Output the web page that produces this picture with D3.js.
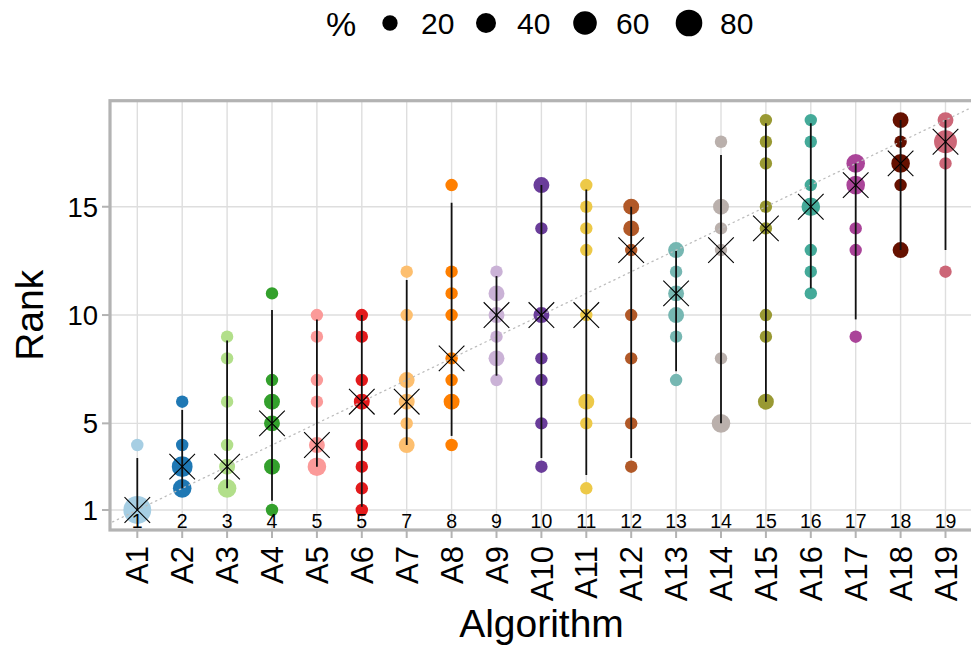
<!DOCTYPE html>
<html>
<head>
<meta charset="utf-8">
<script src="https://cdn.jsdelivr.net/npm/d3@7"></script>
<style>
  html, body { margin: 0; padding: 0; background: #fff; }
  svg { display: block; font-family: "Liberation Sans", Arial, Helvetica, sans-serif; }
</style>
</head>
<body>
<svg id="chart" width="971" height="650"></svg>
<script>
// ---------------- data ----------------
const algorithms = ["A1","A2","A3","A4","A5","A6","A7","A8","A9","A10","A11","A12","A13","A14","A15","A16","A17","A18","A19"];
const rankLabels = [1,2,3,4,5,5,7,8,9,10,11,12,13,14,15,16,17,18,19];
const medianRanks = [1,3,3,5,4,6,6,8,10,10,10,13,11,13,14,15,16,17,18];
const ciLower = [1,2,2,1.43,3,1.15,4,4.42,7.2,3.4,2.62,3.4,7.4,5,6,11.23,9.8,13,13];
const ciUpper = [3.4,5.62,8.82,10.23,9.8,10,11.62,15.19,11.8,16,15.8,15,12.96,17.39,18.85,18.85,17,19,19];
const pointRanks = [
  [1,4],
  [2,3,4,6],
  [2,3,4,6,8,9],
  [1,3,5,6,7,11],
  [3,4,6,7,9,10],
  [1,2,3,4,6,7,9,10],
  [4,5,6,7,10,12],
  [4,6,7,8,10,11,12,16],
  [7,8,9,10,11,12],
  [3,5,7,8,10,14,16],
  [2,5,6,10,13,14,15,16],
  [3,5,8,10,13,14,15],
  [7,9,10,11,12,13],
  [5,8,13,14,15,18],
  [6,9,10,14,15,17,18,19],
  [11,12,13,15,16,18,19],
  [9,13,14,16,17],
  [13,16,17,18,19],
  [12,17,18,19]
];
const pointPercents = [
  [88.9,11.1],
  [33.3,44.4,11.1,11.1],
  [33.3,22.2,11.1,11.1,11.1,11.1],
  [11.1,22.2,22.2,22.2,11.1,11.1],
  [33.3,22.2,11.1,11.1,11.1,11.1],
  [11.1,11.1,11.1,11.1,22.2,11.1,11.1,11.1],
  [22.2,11.1,22.2,22.2,11.1,11.1],
  [11.1,22.2,11.1,11.1,11.1,11.1,11.1,11.1],
  [11.1,22.2,11.1,22.2,22.2,11.1],
  [11.1,11.1,11.1,11.1,22.2,11.1,22.2],
  [11.1,11.1,22.2,11.1,11.1,11.1,11.1,11.1],
  [11.1,11.1,11.1,11.1,11.1,22.2,22.2],
  [11.1,11.1,22.2,22.2,11.1,22.2],
  [33.3,11.1,11.1,11.1,22.2,11.1],
  [22.2,11.1,11.1,11.1,11.1,11.1,11.1,11.1],
  [11.1,11.1,11.1,33.3,11.1,11.1,11.1],
  [11.1,11.1,11.1,33.3,33.3],
  [22.2,11.1,33.3,11.1,22.2],
  [11.1,11.1,55.6,22.2]
];
const colors = ["#A6CEE3","#1F78B4","#B2DF8A","#33A02C","#FB9A99","#E31A1C","#FDBF6F","#FF7F00","#CAB2D6","#6A3D9A","#EDC948","#B15928","#76B7B2","#BAB0AC","#999933","#44AA99","#AA4499","#661100","#CC6677"];
const yTicks = [1,5,10,15];
const legendPercents = [20,40,60,80];

// ---------------- layout ----------------
const svg = d3.select("#chart");
const panel = {left: 110, right: 973, top: 100.7, bottom: 530};

const x = d3.scalePoint().domain(algorithms).range([137.3, 945.5]);
const y = d3.scaleLinear().domain([1, 19]).range([510, 120.1]);
const r = d3.scaleSqrt().domain([0, 100]).range([2, 14.65]);

const gridColor = "#DEDEDE";
const frameColor = "#B3B3B3";

svg.append("defs").append("clipPath").attr("id", "pclip")
  .append("rect").attr("x", panel.left).attr("y", panel.top)
  .attr("width", panel.right - panel.left).attr("height", panel.bottom - panel.top);

// grid
const grid = svg.append("g");
grid.selectAll("line.h").data(yTicks).enter().append("line")
  .attr("x1", panel.left).attr("x2", panel.right)
  .attr("y1", d => y(d)).attr("y2", d => y(d))
  .attr("stroke", gridColor).attr("stroke-width", 1.4);
grid.selectAll("line.v").data(algorithms).enter().append("line")
  .attr("x1", d => x(d)).attr("x2", d => x(d))
  .attr("y1", panel.top).attr("y2", panel.bottom)
  .attr("stroke", gridColor).attr("stroke-width", 1.4);

// blobs
const plot = svg.append("g").attr("clip-path", "url(#pclip)");
const blobData = [];
algorithms.forEach((a, i) => {
  pointRanks[i].forEach((rk, j) => blobData.push({a, i, rk, p: pointPercents[i][j]}));
});
plot.selectAll("circle.blob").data(blobData).enter().append("circle")
  .attr("cx", d => x(d.a)).attr("cy", d => y(d.rk)).attr("r", d => r(d.p))
  .attr("fill", d => colors[d.i]);

// diagonal dotted line (rank = position)
const xi = d3.scaleLinear().domain([1, 19]).range([x("A1"), x("A19")]);
plot.append("line")
  .attr("x1", xi(0.45)).attr("y1", y(0.45))
  .attr("x2", xi(20.5)).attr("y2", y(20.5))
  .attr("stroke", "#BDBDBD").attr("stroke-width", 1.3)
  .attr("stroke-dasharray", "1.3,4").attr("stroke-linecap", "round");

// CI lines
plot.selectAll("line.ci").data(algorithms).enter().append("line")
  .attr("x1", d => x(d)).attr("x2", d => x(d))
  .attr("y1", (d, i) => y(ciLower[i])).attr("y2", (d, i) => y(ciUpper[i]))
  .attr("stroke", "#111").attr("stroke-width", 1.8);

// median crosses
const cs = 12.8;
const crosses = plot.selectAll("g.cross").data(algorithms).enter().append("g")
  .attr("transform", (d, i) => `translate(${x(d)},${y(medianRanks[i])})`);
crosses.append("line").attr("x1", -cs).attr("y1", -cs).attr("x2", cs).attr("y2", cs)
  .attr("stroke", "#000").attr("stroke-width", 1.1);
crosses.append("line").attr("x1", -cs).attr("y1", cs).attr("x2", cs).attr("y2", -cs)
  .attr("stroke", "#000").attr("stroke-width", 1.1);

// rank labels
svg.append("g").selectAll("text").data(algorithms).enter().append("text")
  .attr("x", d => x(d)).attr("y", 528)
  .attr("text-anchor", "middle").attr("font-size", 19.5).attr("fill", "#000")
  .text((d, i) => rankLabels[i]);

// frame
svg.append("rect").attr("x", panel.left).attr("y", panel.top)
  .attr("width", panel.right - panel.left).attr("height", panel.bottom - panel.top)
  .attr("fill", "none").attr("stroke", frameColor).attr("stroke-width", 3.2);

// y axis
const yAxis = svg.append("g");
yAxis.selectAll("line").data(yTicks).enter().append("line")
  .attr("x1", panel.left - 8).attr("x2", panel.left)
  .attr("y1", d => y(d)).attr("y2", d => y(d))
  .attr("stroke", frameColor).attr("stroke-width", 2);
yAxis.selectAll("text").data(yTicks).enter().append("text")
  .attr("x", panel.left - 12).attr("y", d => y(d))
  .attr("dy", "0.36em").attr("text-anchor", "end")
  .attr("font-size", 27.5).attr("fill", "#000").text(d => d);

// x axis
const xAxis = svg.append("g");
xAxis.selectAll("line").data(algorithms).enter().append("line")
  .attr("x1", d => x(d)).attr("x2", d => x(d))
  .attr("y1", panel.bottom).attr("y2", panel.bottom + 8)
  .attr("stroke", frameColor).attr("stroke-width", 2);
xAxis.selectAll("text").data(algorithms).enter().append("text")
  .attr("transform", d => `translate(${x(d)},${546}) rotate(-90)`)
  .attr("dy", "0.36em").attr("text-anchor", "end")
  .attr("font-size", 31).attr("fill", "#000").text(d => d);

// axis titles
svg.append("text").attr("x", (panel.left + panel.right) / 2).attr("y", 637)
  .attr("text-anchor", "middle").attr("font-size", 39).attr("fill", "#000").text("Algorithm");
svg.append("text").attr("transform", `translate(43,${(panel.top + panel.bottom) / 2}) rotate(-90)`)
  .attr("text-anchor", "middle").attr("font-size", 39).attr("fill", "#000").text("Rank");

// legend
const legend = svg.append("g");
legend.append("text").attr("x", 326).attr("y", 36).attr("font-size", 34).attr("fill", "#000").text("%");
const legendX = [390, 486, 585, 689];
legendPercents.forEach((p, k) => {
  legend.append("circle").attr("cx", legendX[k]).attr("cy", 23).attr("r", r(p)).attr("fill", "#000");
  legend.append("text").attr("x", legendX[k] + 31).attr("y", 34).attr("font-size", 30)
    .attr("fill", "#000").text(p);
});
</script>
</body>
</html>
